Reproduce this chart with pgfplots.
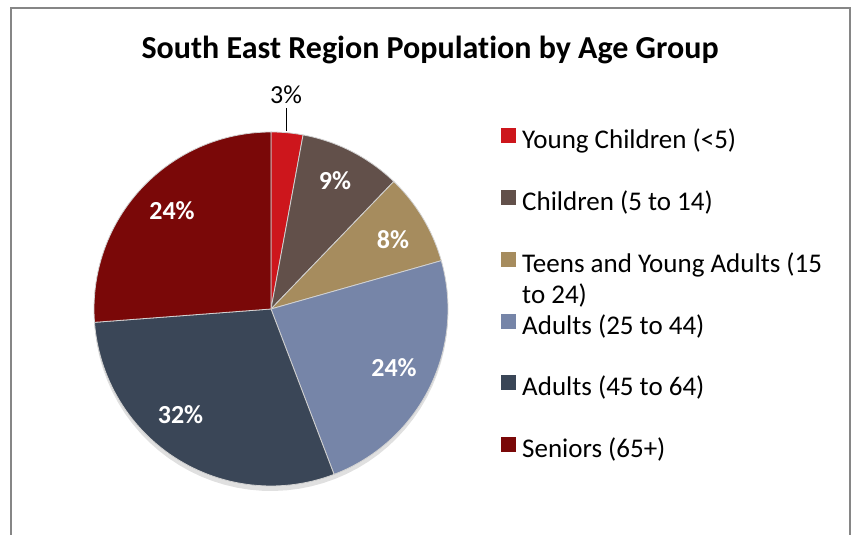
\documentclass[border=0pt]{standalone}
\usepackage{pgfplots}
\usepackage{pgfplotstable}
\pgfplotsset{compat=1.18}
\usepackage{fontspec}
\setmainfont{Carlito}[Ligatures=NoCommon]

\definecolor{slice0}{RGB}{205,22,28}
\definecolor{slice1}{RGB}{98,80,74}
\definecolor{slice2}{RGB}{166,140,94}
\definecolor{slice3}{RGB}{118,133,168}
\definecolor{slice4}{RGB}{58,70,87}
\definecolor{slice5}{RGB}{122,8,8}
\definecolor{framegray}{RGB}{134,134,134}

% share of each age group, in order clockwise from the top
\pgfplotstableread{
value
2.9
9.3
8.4
23.6
29.6
26.2
}\piedata

\begin{document}
\begin{tikzpicture}
\begin{axis}[
    width=854bp, height=535bp, scale only axis,
    xmin=0, xmax=854, ymin=0, ymax=535,
    hide axis, clip=false,
    legend image code/.code={\fill[#1,draw=none] (0bp,-1.5bp) rectangle (15bp,13.5bp);},
    legend style={draw=none, fill=none, inner sep=0pt,
        at={(axis cs:501,407)}, anchor=north west,
        row sep=35.3bp, column sep=6bp,
        font=\fontsize{27bp}{31bp}\selectfont,
        nodes={inner sep=0pt, text height=20bp, text depth=6bp}},
    legend cell align=left,
]
\coordinate (bl) at (rel axis cs:0,0);
\coordinate (tr) at (rel axis cs:1,1);

% soft shadow under the pie
\addplot[fill=black, draw=none, opacity=0.12, domain=0:360, samples=90, variable=\t]
  ({271+177*cos(\t)},{222+178*sin(\t)}) -- cycle;

\def\aStart{90}
\pgfplotsforeachungrouped \i in {0,...,5}{
  \pgfplotstablegetelem{\i}{value}\of\piedata
  \pgfmathsetmacro\aEnd{\aStart-3.6*\pgfplotsretval}
  \edef\cmd{\noexpand\addplot[fill=slice\i, draw=white!65!gray, line width=0.8bp,
      domain=\aEnd:\aStart, samples=60, variable=\noexpand\t]
      ({271+177*cos(\noexpand\t)},{226+177*sin(\noexpand\t)}) -- (axis cs:271,226) -- cycle;}
  \cmd
  \global\let\aStart\aEnd
}
\legend{, Young Children (<5), Children (5 to 14),
  {\smash{\vtop{\hbox{Teens and Young Adults (15}\hbox{to 24)}}}},
  Adults (25 to 44), Adults (45 to 64), Seniors (65+)}

\node[anchor=base, font=\bfseries\fontsize{32bp}{38bp}\selectfont] at (axis cs:430,476)
  {South East Region Population by Age Group};

\node[font=\fontsize{26bp}{30bp}\selectfont] at (axis cs:286,440) {3\%};
\draw[line width=1bp] (axis cs:286.7,427) -- (axis cs:286.7,404);
\begin{scope}[every node/.style={text=white, font=\bfseries\fontsize{26bp}{30bp}\selectfont}]
\node at (axis cs:335,354.5) {9\%};
\node at (axis cs:393,295.5) {8\%};
\node at (axis cs:394,167) {24\%};
\node at (axis cs:180.5,120) {32\%};
\node at (axis cs:172,324.5) {24\%};
\end{scope}

\draw[framegray, line width=2bp] (axis cs:11,-20) rectangle (axis cs:850,527);
\end{axis}
\pgfresetboundingbox
\path[use as bounding box] (bl) rectangle (tr);
\end{tikzpicture}
\end{document}
